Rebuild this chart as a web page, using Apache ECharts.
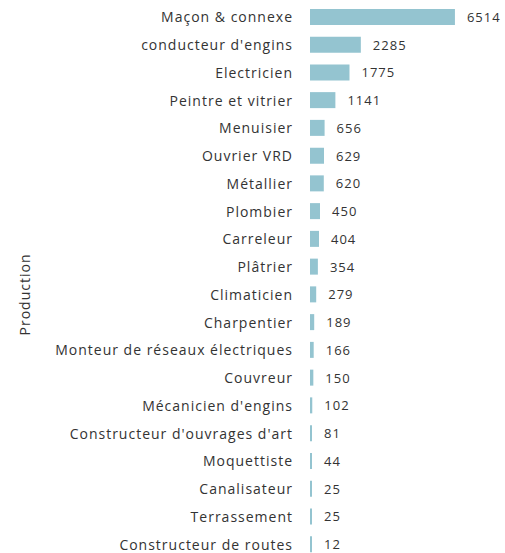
<!DOCTYPE html>
<html><head><meta charset="utf-8">
<script src="https://cdn.jsdelivr.net/npm/echarts@6/dist/echarts.min.js"></script>
<style>html,body{margin:0;padding:0;background:#fff}#c{width:505px;height:553px}#c text{letter-spacing:1px}</style>
</head><body><div id="c"></div>
<script>
var categories = ["Maçon & connexe","conducteur d'engins","Electricien","Peintre et vitrier","Menuisier","Ouvrier VRD","Métallier","Plombier","Carreleur","Plâtrier","Climaticien","Charpentier","Monteur de réseaux électriques","Couvreur","Mécanicien d'engins","Constructeur d'ouvrages d'art","Moquettiste","Canalisateur","Terrassement","Constructeur de routes"];
var values = [6514,2285,1775,1141,656,629,620,450,404,354,279,189,166,150,102,81,44,25,25,12];
var axisName = "Production";

var chart = echarts.init(document.getElementById('c'), null, {renderer:'svg'});
chart.setOption({
  animation:false,
  grid:{left:310, top:3, width:178, height:555, outerBoundsMode:'none', containLabel:false},
  xAxis:{type:'value', min:0, max:8000, show:false},
  yAxis:{type:'category', data:categories, inverse:true,
    axisLine:{show:false}, axisTick:{show:false}, splitLine:{show:false},
    axisLabel:{margin:17, fontFamily:'Open Sans', fontSize:14, color:'#333'},
    name:axisName, nameLocation:'middle', nameRotate:90, nameGap:279,
    nameTextStyle:{fontFamily:'Open Sans', fontSize:14, color:'#333', padding:[0,28,0,0]}
  },
  series:[{type:'bar', data:values, barWidth:16, barMinHeight:2,
    itemStyle:{color:'#94c4d0'},
    label:{show:true, position:'right', distance:12, fontFamily:'Open Sans', fontSize:13, color:'#333'}
  }]
});
</script></body></html>
